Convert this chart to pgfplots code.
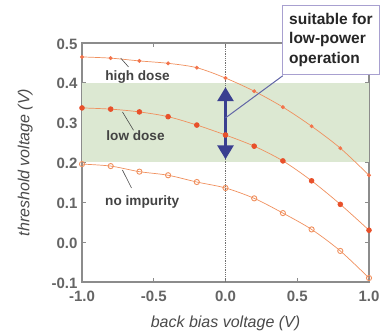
\documentclass[border=0pt]{standalone}
\usepackage{fontspec}
\setmainfont{Liberation Sans}
\usepackage{pgfplots}
\pgfplotsset{compat=1.18}
\usetikzlibrary{arrows.meta}
\definecolor{ax}{HTML}{8C8C8C}
\definecolor{tk}{HTML}{4A4A4A}
\definecolor{band}{HTML}{DCE8D2}
\definecolor{curve}{HTML}{F0905E}
\definecolor{mk}{HTML}{E8502A}
\definecolor{arr}{HTML}{3A3F90}
\definecolor{boxc}{HTML}{A8A0D0}
\begin{document}
\begin{tikzpicture}
\useasboundingbox (-82pt,-52pt) rectangle (306pt,282pt);
\begin{axis}[
  at={(0,0)}, anchor=south west,
  scale only axis, width=287pt, height=239pt,
  xmin=-1, xmax=1, ymin=-0.1, ymax=0.5,
  xtick={-1,-0.5,0,0.5,1}, ytick={-0.1,0,0.1,0.2,0.3,0.4,0.5},
  /pgf/number format/fixed, /pgf/number format/fixed zerofill, /pgf/number format/precision=1,
  /pgf/number format/assume math mode=true,
  tick align=inside, major tick length=4pt,
  tick style={ax, line width=0.8pt},
  axis line style={ax, line width=1.3pt},
  ticklabel style={font=\fontsize{15}{16}\selectfont\bfseries, text=tk!85},
  xticklabel style={yshift=-5pt},
  yticklabel style={xshift=-1pt, yshift=-1pt},
  xlabel={\itshape back bias voltage (V)},
  ylabel={\itshape threshold voltage (V)},
  label style={font=\fontsize{16}{18}\selectfont, text=tk},
  xlabel style={yshift=-8pt},
  ylabel style={yshift=12pt},
  clip=false,
]
\addplot[draw=none, fill=band, forget plot] coordinates {(-1,0.2) (1,0.2) (1,0.4) (-1,0.4)} -- cycle;
\addplot[ax!80!black, densely dotted, line width=0.8pt, forget plot] coordinates {(0,-0.1) (0,0.5)};
% high dose
\addplot[curve, line width=0.7pt, smooth, mark=*, mark size=1.6pt, mark options={fill=curve!80!red, draw=curve!80!red, solid}] coordinates {
(-1,0.465) (-0.8,0.462) (-0.6,0.455) (-0.4,0.449) (-0.2,0.438) (0,0.412) (0.2,0.379) (0.4,0.339) (0.6,0.291) (0.8,0.236) (1,0.168)};
% low dose
\addplot[curve, line width=0.7pt, smooth, mark=*, mark size=2.4pt, mark options={fill=mk, draw=mk, solid}] coordinates {
(-1,0.337) (-0.8,0.334) (-0.6,0.327) (-0.4,0.315) (-0.2,0.294) (0,0.269) (0.2,0.241) (0.4,0.204) (0.6,0.154) (0.8,0.095) (1,0.030)};
% no impurity
\addplot[curve, line width=0.7pt, smooth, mark=o, mark size=2.6pt, mark options={draw=curve, fill=white, line width=0.9pt, solid}] coordinates {
(-1,0.196) (-0.8,0.191) (-0.6,0.177) (-0.4,0.168) (-0.2,0.151) (0,0.136) (0.2,0.110) (0.4,0.073) (0.6,0.032) (0.8,-0.022) (1,-0.090)};
% arrow
\draw[arr, line width=2.8pt, -{Triangle[length=14pt,width=16pt]}] (axis cs:0,0.30) -- (axis cs:0,0.389);
\draw[arr, line width=2.8pt, -{Triangle[length=14pt,width=16pt]}] (axis cs:0,0.30) -- (axis cs:0,0.208);
% labels
\node[font=\fontsize{13.6}{15}\selectfont\bfseries, text=tk!90!black] at (axis cs:-0.613,0.415) {high dose};
\node[font=\fontsize{13.6}{15}\selectfont\bfseries, text=tk!90!black] at (axis cs:-0.627,0.267) {low dose};
\node[font=\fontsize{13.6}{15}\selectfont\bfseries, text=tk!90!black] at (axis cs:-0.58,0.100) {no impurity};
\draw[tk, line width=0.6pt] (axis cs:-0.73,0.462) -- (axis cs:-0.676,0.44);
\draw[tk, line width=0.6pt] (axis cs:-0.718,0.327) -- (axis cs:-0.641,0.281);
\draw[tk, line width=0.6pt] (axis cs:-0.718,0.181) -- (axis cs:-0.655,0.136);
% callout
\draw[arr!80, line width=1pt] (axis cs:0.40,0.418) -- (axis cs:0,0.312);
\node[draw=boxc, line width=1pt, fill=white, minimum width=97pt, minimum height=69pt, align=left, inner sep=1.5pt,
  font=\fontsize{15.5}{19.5}\selectfont\bfseries, text=black!85] at (axis cs:0.735,0.508) {suitable for\\low-power\\operation};
\end{axis}
\end{tikzpicture}
\end{document}
